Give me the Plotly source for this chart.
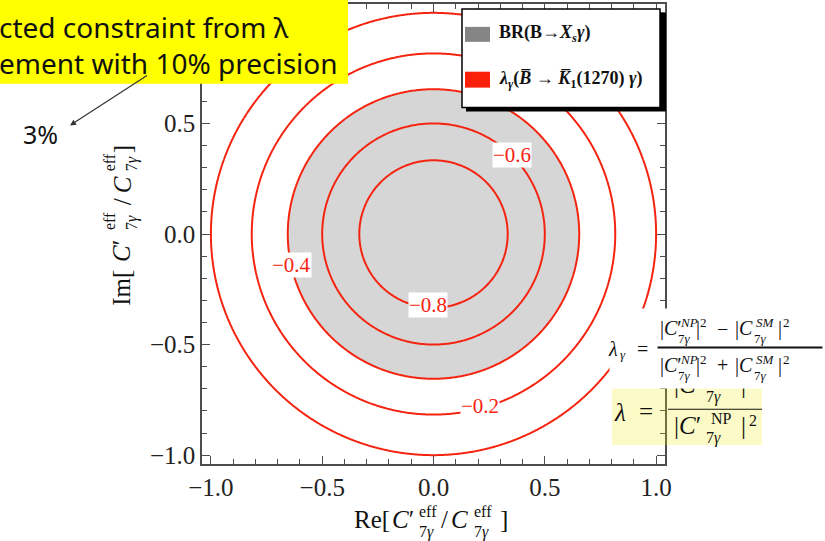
import numpy as np
import plotly.graph_objects as go

# ---------------- data ----------------
contour_levels = [-0.8, -0.6, -0.4, -0.2, 0.0]      # lambda_gamma contours
labelled_levels = ["−0.8", "−0.6", "−0.4", "−0.2"]
br_radius = 0.655                                    # BR(B->Xs gamma) allowed |C'/C|
x_tick_vals = [-1.0, -0.5, 0.0, 0.5, 1.0]
y_tick_vals = [-1.0, -0.5, 0.0, 0.5, 1.0]
tick_text = ["−1.0", "−0.5", "0.0", "0.5", "1.0"]
axis_range = [-1.04, 1.04]

# label anchor points (layout only)
label_pos_re = [-0.024, 0.352, -0.636, 0.210]
label_pos_im = [-0.319, 0.359, -0.139, -0.777]

RED = "rgb(245,36,16)"
GRAY = "#d6d6d6"
SERIF = "Liberation Serif"
SANS = "Noto Sans"

# grid through the plotted plane, lambda_gamma = (|C'|^2-|C|^2)/(|C'|^2+|C|^2)
n = 321
re = np.linspace(axis_range[0], axis_range[1], n)
im = np.linspace(axis_range[0], axis_range[1], n)
RE, IM = np.meshgrid(re, im)
ratio2 = RE**2 + IM**2
lam = (ratio2 - 1.0) / (ratio2 + 1.0)
ratio = np.sqrt(ratio2)

fig = go.Figure()
# constraint contours shade the region failing the condition -> '>' shades ratio < br_radius
fig.add_trace(go.Contour(
    x=re, y=im, z=ratio, showscale=False, hoverinfo="skip",
    contours=dict(type="constraint", operation=">", value=br_radius),
    fillcolor=GRAY, line=dict(color=GRAY, width=0.5), name="BR"))
step = round(contour_levels[1] - contour_levels[0], 6)
fig.add_trace(go.Contour(
    x=re, y=im, z=lam, showscale=False, hoverinfo="skip",
    contours=dict(start=contour_levels[0], end=contour_levels[-1] + 1e-6, size=step,
                  coloring="none", showlabels=False),
    line=dict(color=RED, width=2, smoothing=1.0), name="lambda"))

# ---------------- layout helpers (pixel -> paper) ----------------
L, T, PW, PH = 202, 2, 463, 462
def px(x): return (x - L) / PW
def py(y): return (T + PH - y) / PH

def ann(x, y, text, size, color="#111", font=SERIF, xanchor="center", yanchor="middle", **kw):
    d = dict(xref="paper", yref="paper", x=px(x), y=py(y), text=text, showarrow=False,
             font=dict(family=font, size=size, color=color), xanchor=xanchor, yanchor=yanchor)
    d.update(kw)
    return d

def rect(x0, y0, x1, y1, fill, line_color=None, lw=0):
    return dict(type="rect", xref="paper", yref="paper", x0=px(x0), x1=px(x1), y0=py(y1), y1=py(y0),
                fillcolor=fill, line=dict(color=line_color or fill, width=lw), layer="above")

shapes = []
annotations = []

# contour labels
for t, xr, yi in zip(labelled_levels, label_pos_re, label_pos_im):
    annotations.append(dict(x=xr, y=yi, xref="x", yref="y", text=t, showarrow=False,
                            font=dict(family=SERIF, size=21, color=RED), bgcolor="white", borderpad=0))

# top-left yellow callout
shapes.append(rect(-10, -10, 348, 82, "#ffff00"))
annotations.append(ann(-3, 25, "cted constraint from λ", 28, color="#111", font=SANS, xanchor="left"))
annotations.append(ann(-3, 61, "ement with 10% precision", 28, color="#111", font=SANS, xanchor="left"))
annotations.append(dict(xref="paper", yref="paper", x=px(70), y=py(124), text=" ", showarrow=True,
                        ax=80, ay=-52, arrowhead=2, arrowsize=1, arrowwidth=1.2, arrowcolor="#333"))
annotations.append(ann(40, 133, "3%", 25, color="#111", font=SANS))

# legend box
shapes.append(rect(466, 11, 666, 110, "black"))
shapes.append(rect(462, 7, 660, 106, "white", "black", 1.5))
shapes.append(rect(465, 25, 490, 40, "#858585"))
shapes.append(rect(465, 70, 490, 86, "rgb(250,32,10)"))
annotations.append(ann(497, 32, "<b>BR(B→<i>X</i><sub><i>s</i></sub><i>γ</i>)</b>", 18, xanchor="left"))
annotations.append(ann(497, 78, "<b><i>λ</i><sub><i>γ</i></sub>(<i>B\u0305</i> → <i>K\u0305</i><sub>1</sub>(1270) <i>γ</i>)</b>",
                       18, xanchor="left"))

# x-axis title (stacked scripts)
M, S = 25, 16
annotations += [
    ann(371.5, 520, "Re[", M), ann(403, 520, "<i>C</i>′", M),
    ann(428, 512, "eff", S), ann(426, 532, "7<i>γ</i>", S),
    ann(444, 520, "/", M), ann(459, 520, "<i>C</i>", M),
    ann(483, 512, "eff", S), ann(481, 532, "7<i>γ</i>", S),
    ann(504, 520, "]", M),
]
# y-axis title (rotated)
annotations += [
    ann(122, 287, "Im[", M, textangle=-90), ann(122, 250, "<i>C</i>′", M, textangle=-90),
    ann(109, 220, "eff", S, textangle=-90), ann(132, 222, "7<i>γ</i>", S, textangle=-90),
    ann(122, 201, "/", M, textangle=-90), ann(122, 184, "<i>C</i>", M, textangle=-90),
    ann(109, 161, "eff", S, textangle=-90), ann(132, 163, "7<i>γ</i>", S, textangle=-90),
    ann(122, 148, "]", M, textangle=-90),
]

# yellow formula (numerator partially hidden)
shapes.append(rect(612, 388, 762, 445, "rgba(240,235,0,0.22)"))
YM, YS = 25, 16
annotations += [
    ann(687.5, 384, "|<i>C</i>′", YM), ann(713, 397, "7<i>γ</i>", YS), ann(743, 384, "|", YM),
]
# white formula box (covers plot)
annotations.append(ann(720, 347.5, " ", 1, width=220, height=79, bgcolor="white", borderpad=0))
annotations += [
    ann(620, 412, "<i>λ</i>", YM), ann(646, 411, "=", YM),
    ann(687.5, 425, "|<i>C</i>′", YM), ann(721, 418, "NP", YS), ann(713, 438, "7<i>γ</i>", YS),
    ann(743, 425, "|", YM), ann(753, 420, "2", YS),
]
shapes.append(dict(type="line", xref="paper", yref="paper", x0=px(668), x1=px(762), y0=py(409), y1=py(409),
                   line=dict(color="#111", width=1.2), layer="above"))

# lambda_gamma formula
FM, FS = 20, 13
for yy, op in ((328, "−"), (365, "+")):
    annotations += [
        ann(670.5, yy, "|<i>C</i>′", FM), ann(689, yy - 6, "<i>NP</i>", FS), ann(684, yy + 10, "7<i>γ</i>", FS),
        ann(697.5, yy, "|", FM), ann(703.5, yy - 6, "2", FS), ann(722, yy, op, FM),
        ann(743.5, yy, "|<i>C</i>", FM), ann(765, yy - 6, "<i>SM</i>", FS), ann(760, yy + 10, "7<i>γ</i>", FS),
        ann(780, yy, "|", FM), ann(786, yy - 6, "2", FS),
    ]
annotations += [
    ann(613, 349, "<i>λ</i>", FM), ann(622.5, 354, "<i>γ</i>", FS), ann(642.5, 348, "=", FM),
    ann(740, 347, " ", 1, width=164, height=1, bgcolor="#111", borderpad=0),
]

axis_common = dict(range=axis_range, showgrid=False, zeroline=False, showline=True, linecolor="#4d4d4d",
                   linewidth=1.5, mirror="ticks", ticks="inside", ticklen=8, tickwidth=1.2, tickcolor="#4d4d4d",
                   tickfont=dict(family=SERIF, size=25, color="#222"), ticktext=tick_text,
                   minor=dict(dtick=0.1, tick0=0, ticks="inside", ticklen=5, tickwidth=1, tickcolor="#4d4d4d"))

fig.update_layout(
    width=825, height=541, autosize=False,
    margin=dict(l=L, r=825 - L - PW, t=T, b=541 - T - PH),
    paper_bgcolor="white", plot_bgcolor="white", showlegend=False,
    xaxis=dict(tickvals=x_tick_vals, **axis_common),
    yaxis=dict(tickvals=y_tick_vals, **axis_common),
    shapes=shapes, annotations=annotations,
)

fig.write_html("out.html", config={"displayModeBar": False},
               post_script="document.body.style.margin='0';document.body.style.overflow='hidden';")
